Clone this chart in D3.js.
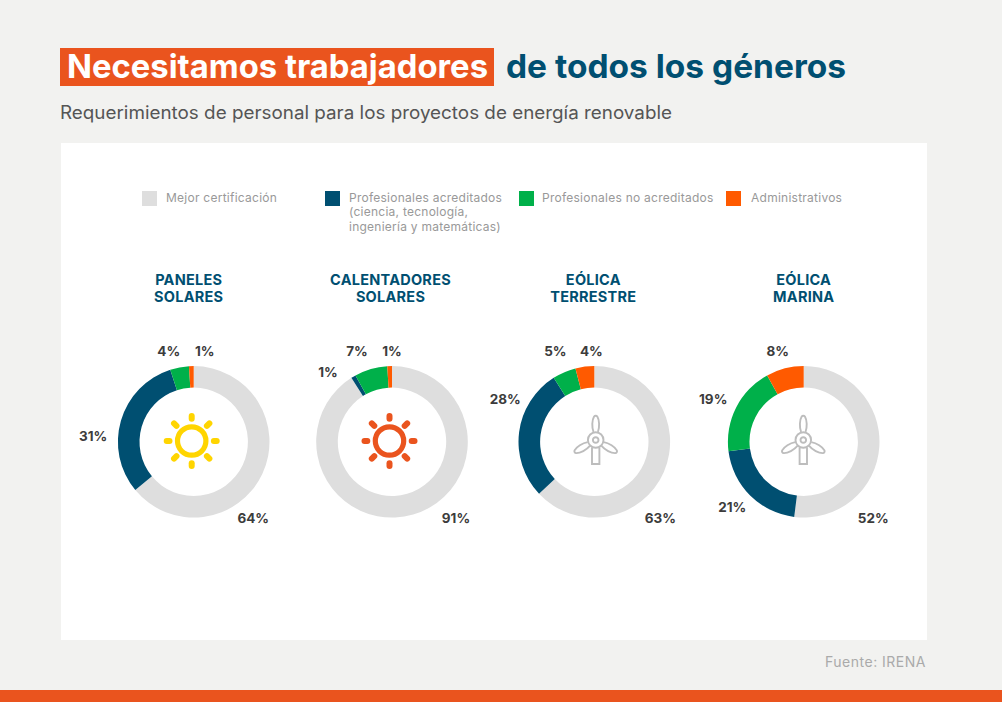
<!DOCTYPE html>
<html>
<head>
<meta charset="utf-8">
<script src="https://cdn.jsdelivr.net/npm/d3@7"></script>
<style>
  html, body { margin: 0; padding: 0; background: #f2f2f0; }
  text { font-family: Inter, sans-serif; }
</style>
</head>
<body>
<script>
const sectors = ['PANELES SOLARES', 'CALENTADORES SOLARES', 'EÓLICA TERRESTRE', 'EÓLICA MARINA'];
const headings = [['PANELES', 'SOLARES'], ['CALENTADORES', 'SOLARES'], ['EÓLICA', 'TERRESTRE'], ['EÓLICA', 'MARINA']];
const categories = ['Mejor certificación', 'Profesionales acreditados', 'Profesionales no acreditados', 'Administrativos'];
const legendLines = [['Mejor certificación'], ['Profesionales acreditados', '(ciencia, tecnología,', 'ingeniería y matemáticas)'], ['Profesionales no acreditados'], ['Administrativos']];

const paneles = [64, 31, 4, 1];
const calentadores = [91, 1, 7, 1];
const terrestre = [63, 28, 5, 4];
const marina = [52, 21, 19, 8];
const shares = [paneles, calentadores, terrestre, marina];

const colors = ['#dedede', '#004f71', '#00b04a', '#ff5a00'];

// hand placed in the original, so offsets from each donut centre
const labelOffsets = [
  [[59.5, 81], [-100.5, -1], [-25, -86], [11, -86]],
  [[64, 81], [-64, -65], [-35, -86], [0, -86]],
  [[66, 81], [-89, -38], [-39, -86], [-3, -86]],
  [[69.5, 81], [-71.5, 70], [-90.5, -38], [-26, -86]]
];
const centers = [193.7, 392, 594.3, 803.7];
const iconCenters = [191.7, 389.5, 595.7, 803.3];
const legendX = [142, 325, 519, 726];
const legendTextX = [24, 24, 23, 25];
const headingShift = [-5, -1.5, -1, 0];
const icons = ['sun', 'sun', 'wind', 'wind'];
const iconColors = ['#ffd500', '#ea541e', '#bdbdbd', '#bdbdbd'];

const cy = 441.8;

const svg = d3.select('body').append('svg')
  .attr('width', 1002)
  .attr('height', 702)
  .style('display', 'block');

svg.append('rect').attr('width', 1002).attr('height', 702).attr('fill', '#f2f2f0');
svg.append('rect').attr('x', 61).attr('y', 143).attr('width', 866).attr('height', 497).attr('fill', '#fff');
svg.append('rect').attr('y', 690).attr('width', 1002).attr('height', 12).attr('fill', '#ea541e');

// title
svg.append('rect').attr('x', 60).attr('y', 48).attr('width', 434).attr('height', 38).attr('fill', '#ea541e');
svg.append('text').attr('x', 67).attr('y', 78)
  .attr('textLength', 421).attr('lengthAdjust', 'spacingAndGlyphs')
  .attr('font-size', 33).attr('font-weight', 700).attr('fill', '#fff')
  .text('Necesitamos trabajadores');
svg.append('text').attr('x', 506).attr('y', 78)
  .attr('textLength', 340).attr('lengthAdjust', 'spacingAndGlyphs')
  .attr('font-size', 33).attr('font-weight', 700).attr('fill', '#004f71')
  .text('de todos los géneros');
svg.append('text').attr('x', 60).attr('y', 119)
  .attr('textLength', 612).attr('lengthAdjust', 'spacingAndGlyphs')
  .attr('font-size', 18).attr('fill', '#555')
  .text('Requerimientos de personal para los proyectos de energía renovable');

svg.append('text').attr('x', 926).attr('y', 667).attr('text-anchor', 'end')
  .attr('font-size', 14).attr('letter-spacing', 0.5).attr('fill', '#aaa').text('Fuente: IRENA');

// legend
const legend = svg.selectAll('g.legend').data(categories).enter().append('g')
  .attr('class', 'legend')
  .attr('transform', (d, i) => 'translate(' + legendX[i] + ',191)');
legend.append('rect').attr('width', 15).attr('height', 15).attr('fill', (d, i) => colors[i]);
legend.each(function(d, i) {
  d3.select(this).selectAll('text').data(legendLines[i]).enter().append('text')
    .attr('x', legendTextX[i])
    .attr('y', (l, j) => 11 + j * 14.3)
    .attr('font-size', 12)
    .attr('letter-spacing', 0.25)
    .attr('fill', '#999')
    .text(l => l);
});

const xScale = d3.scaleOrdinal().domain(sectors).range(centers);
const pie = d3.pie().sort(null).value(d => d);
const arc = d3.arc().innerRadius(54.2).outerRadius(75.8);

const donut = svg.selectAll('g.donut').data(sectors).enter().append('g')
  .attr('class', 'donut')
  .attr('transform', d => 'translate(' + xScale(d) + ',' + cy + ')');

donut.each(function(sector, i) {
  const g = d3.select(this);

  g.selectAll('path').data(pie(shares[i])).enter().append('path')
    .attr('d', arc)
    .attr('fill', (d, j) => colors[j]);

  g.selectAll('text.pct').data(shares[i]).enter().append('text')
    .attr('class', 'pct')
    .attr('x', (d, j) => labelOffsets[i][j][0])
    .attr('y', (d, j) => labelOffsets[i][j][1])
    .attr('text-anchor', 'middle')
    .attr('font-size', 13.5)
    .attr('font-weight', 700)
    .attr('fill', '#3c3c3c')
    .text(d => d + '%');

  g.selectAll('text.head').data(headings[i]).enter().append('text')
    .attr('class', 'head')
    .attr('x', headingShift[i])
    .attr('y', (l, j) => -157.3 + j * 17)
    .attr('text-anchor', 'middle')
    .attr('font-size', 14.5)
    .attr('letter-spacing', 0.25)
    .attr('font-weight', 700)
    .attr('fill', '#004f71')
    .text(l => l);
});

function drawSun(g, color) {
  g.append('circle').attr('r', 14.2).attr('fill', 'none').attr('stroke', color).attr('stroke-width', 5.2);
  d3.range(8).forEach(k => {
    const a = k * Math.PI / 4;
    const r0 = k % 2 ? 21.5 : 22.2;
    g.append('line')
      .attr('x1', Math.cos(a) * r0).attr('y1', Math.sin(a) * r0)
      .attr('x2', Math.cos(a) * 25).attr('y2', Math.sin(a) * 25)
      .attr('stroke', color).attr('stroke-width', 6).attr('stroke-linecap', 'round');
  });
}

function drawTurbine(g, color) {
  const line = { fill: 'none', stroke: color, 'stroke-width': 1.9 };
  const style = sel => { Object.keys(line).forEach(k => sel.attr(k, line[k])); return sel; };
  style(g.append('path')).attr('d', 'M-3.7,7.5V24H3.7V7.5');
  [0, 120, 240].forEach(rot => {
    style(g.append('path'))
      .attr('transform', 'rotate(' + rot + ')')
      .attr('d', 'M-2.2,-8C-4,-13,-3.8,-20,-1.6,-23.5C-0.8,-24.6,0.8,-24.6,1.6,-23.5C3.8,-20,4,-13,2.2,-8');
  });
  style(g.append('circle')).attr('r', 7.8);
  style(g.append('circle')).attr('r', 2.8);
}

icons.forEach((icon, i) => {
  const g = svg.append('g').attr('transform', 'translate(' + iconCenters[i] + ',' + (icon === 'sun' ? 441 : 440) + ')');
  if (icon === 'sun') drawSun(g, iconColors[i]);
  else drawTurbine(g, iconColors[i]);
});
</script>
</body>
</html>
